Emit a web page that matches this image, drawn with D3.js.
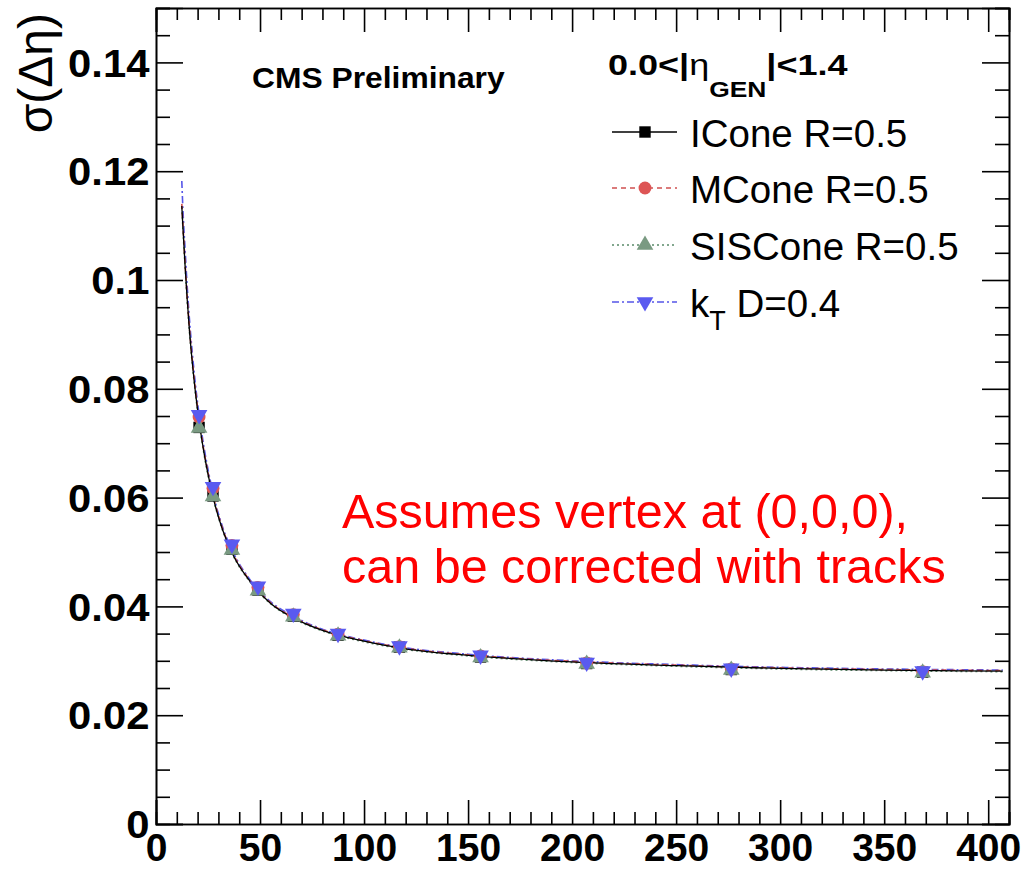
<!DOCTYPE html>
<html lang="en">
<head>
  <meta charset="UTF-8">
  <title>sigma(Delta eta) vs pT</title>
  <script src="https://d3js.org/d3.v7.min.js"></script>
  <style>
    body { margin: 0; background: #fff; font-family: "Liberation Sans", Arial, sans-serif; }
    .tick text { font-weight: bold; fill: #000; }
    .domain { stroke: #000; stroke-width: 1.6; }
    .tick line { stroke: #000; stroke-width: 1.6; }
  </style>
</head>
<body>
  <svg width="1022" height="870"></svg>
  <script>
    // Jet pT bin centres and sigma(delta eta) per algorithm
    const ptBins = [20.7, 27.4, 36.5, 49, 66, 87.5, 117, 156, 207, 276.5, 368.5];
    const iconeVals = [0.0729, 0.0603, 0.0505, 0.0430, 0.0382, 0.0347, 0.0325, 0.0307, 0.0295, 0.0284, 0.0279];
    const mconeVals = [0.0748, 0.0617, 0.0512, 0.0435, 0.0385, 0.0349, 0.0326, 0.0309, 0.0296, 0.0285, 0.0280];
    const sisconeVals = [0.0728, 0.0602, 0.0504, 0.0429, 0.0381, 0.0346, 0.0324, 0.0306, 0.0294, 0.0283, 0.0278];
    const ktVals = [0.0752, 0.0620, 0.0514, 0.0437, 0.0387, 0.0350, 0.0327, 0.0310, 0.0297, 0.0286, 0.0281];

    // fit curves
    const fitX = [12.4, 13, 14, 15, 16, 17.5, 19, 21, 23, 25, 28, 32, 37, 45, 55, 66, 80, 100, 120, 150, 200, 250, 300, 350, 407];
    const iconeFit = [0.1136, 0.1093, 0.1025, 0.0964, 0.0911, 0.0846, 0.0792, 0.0733, 0.0684, 0.0643, 0.0592, 0.0541, 0.0495, 0.0447, 0.0406, 0.0379, 0.0356, 0.0336, 0.0322, 0.0310, 0.0298, 0.0291, 0.0286, 0.0283, 0.0281];
    const mconeFit = [0.1140, 0.1098, 0.1030, 0.0969, 0.0916, 0.0851, 0.0796, 0.0737, 0.0687, 0.0646, 0.0595, 0.0543, 0.0497, 0.0448, 0.0407, 0.0380, 0.0357, 0.0337, 0.0323, 0.0311, 0.0299, 0.0292, 0.0287, 0.0284, 0.0282];
    const sisconeFit = [0.1134, 0.1091, 0.1023, 0.0962, 0.0909, 0.0844, 0.0790, 0.0731, 0.0682, 0.0641, 0.0591, 0.0540, 0.0494, 0.0446, 0.0405, 0.0378, 0.0355, 0.0335, 0.0321, 0.0309, 0.0297, 0.0290, 0.0285, 0.0282, 0.0280];
    const ktFit = [0.1182, 0.1125, 0.1055, 0.0988, 0.0932, 0.0864, 0.0806, 0.0745, 0.0694, 0.0652, 0.0599, 0.0546, 0.0500, 0.0450, 0.0409, 0.0382, 0.0358, 0.0338, 0.0324, 0.0312, 0.0300, 0.0293, 0.0288, 0.0285, 0.0283];

    const seriesNames = ["ICone R=0.5", "MCone R=0.5", "SISCone R=0.5", "kT D=0.4"];
    const xTicks = [0, 50, 100, 150, 200, 250, 300, 350, 400];
    const yTicks = [0, 0.02, 0.04, 0.06, 0.08, 0.1, 0.12, 0.14];

    const margin = { top: 8, left: 156 };
    const width = 853;
    const height = 816;

    const svg = d3.select("svg");
    const g = svg.append("g")
      .attr("transform", `translate(${margin.left}, ${margin.top})`);

    const x = d3.scaleLinear().domain([0, 410]).range([0, width]);
    const y = d3.scaleLinear().domain([0, 0.15]).range([height, 0]);

    const xMinor = d3.range(0, 411, 10).filter(v => v % 50 !== 0);
    const yMinor = d3.range(0, 151, 5).map(v => v / 1000).filter((v, i) => i % 4 !== 0);

    // minor ticks on all four sides
    g.append("g").attr("transform", `translate(0, ${height})`)
      .call(d3.axisBottom(x).tickValues(xMinor).tickSize(-12).tickFormat(""));
    g.append("g")
      .call(d3.axisTop(x).tickValues(xMinor).tickSize(-12).tickFormat(""));
    g.append("g")
      .call(d3.axisLeft(y).tickValues(yMinor).tickSize(-14).tickFormat(""));
    g.append("g").attr("transform", `translate(${width}, 0)`)
      .call(d3.axisRight(y).tickValues(yMinor).tickSize(-14).tickFormat(""));

    // major ticks + labels
    g.append("g").attr("transform", `translate(0, ${height})`)
      .call(d3.axisBottom(x).tickValues(xTicks).tickSize(-24).tickPadding(9).tickFormat(d3.format("d")))
      .selectAll("text").style("font-size", "39px").attr("dy", "0.72em");
    g.append("g")
      .call(d3.axisTop(x).tickValues(xTicks).tickSize(-24).tickFormat(""));
    g.append("g")
      .call(d3.axisLeft(y).tickValues(yTicks).tickSize(-27).tickPadding(6).tickFormat(d => d === 0 ? "0" : d3.format(".2~f")(d)))
      .selectAll("text").style("font-size", "38px").attr("dy", "0.36em")
      .attr("transform", "scale(1.1,1)");
    g.append("g").attr("transform", `translate(${width}, 0)`)
      .call(d3.axisRight(y).tickValues(yTicks).tickSize(-27).tickFormat(""));

    g.selectAll(".domain").attr("fill", "none");

    // y-axis title
    svg.append("text")
      .attr("transform", "translate(52, 13) rotate(-90)")
      .attr("text-anchor", "end")
      .style("font-size", "48px")
      .text("σ(Δη)");

    const styles = [
      { color: "#000000", mcolor: "#000000", dash: null, shape: d3.symbolSquare, rot: 0, size: 130 },
      { color: "#d05050", mcolor: "#dd5555", dash: "5,4", shape: d3.symbolCircle, rot: 0, size: 130 },
      { color: "#5a8a6a", mcolor: "#7a9a82", dash: "2,3", shape: d3.symbolTriangle, rot: 0, size: 120 },
      { color: "#5555e8", mcolor: "#5a5af0", dash: "7,3,2,3", shape: d3.symbolTriangle, rot: 180, size: 120 }
    ];
    const fits = [iconeFit, mconeFit, sisconeFit, ktFit];
    const vals = [iconeVals, mconeVals, sisconeVals, ktVals];

    const line = d3.line()
      .x(d => x(d[0]))
      .y(d => y(d[1]))
      .curve(d3.curveMonotoneX);

    // fit curves (blue drawn first so black sits on top like the reference)
    [3, 2, 1, 0].forEach(i => {
      g.append("path")
        .datum(fitX.map((v, j) => [v, fits[i][j]]))
        .attr("fill", "none")
        .attr("stroke", styles[i].color)
        .attr("stroke-width", i === 0 ? 1.3 : 1.6)
        .attr("stroke-dasharray", styles[i].dash)
        .attr("d", line);
    });

    // markers
    [0, 1, 2, 3].forEach(i => {
      const s = styles[i];
      g.selectAll(".m" + i)
        .data(ptBins.map((v, j) => [v, vals[i][j]]))
        .enter().append("path")
        .attr("class", "m" + i)
        .attr("transform", d => `translate(${x(d[0])}, ${y(d[1])}) rotate(${s.rot})`)
        .attr("d", d3.symbol().type(s.shape).size(s.size))
        .attr("fill", s.mcolor);
    });

    // CMS label
    svg.append("text")
      .attr("transform", "translate(252, 88) scale(1.06,1)")
      .style("font-size", "30px").style("font-weight", "bold")
      .text("CMS Preliminary");

    // legend header
    const hdr = svg.append("text")
      .attr("transform", "translate(608, 75) scale(1.2,1)")
      .style("font-size", "30px").style("font-weight", "bold");
    hdr.append("tspan").text("0.0<|");
    hdr.append("tspan").style("font-weight", "normal").text("η");
    hdr.append("tspan").attr("dy", 22).style("font-size", "22px").text("GEN");
    hdr.append("tspan").attr("dy", -22).text("|<1.4");

    const legY = [132, 188, 245, 302];
    seriesNames.forEach((name, i) => {
      const s = styles[i];
      svg.append("line")
        .attr("x1", 612).attr("x2", 677)
        .attr("y1", legY[i]).attr("y2", legY[i])
        .attr("stroke", s.color).attr("stroke-width", 1.6)
        .attr("stroke-dasharray", s.dash);
      svg.append("path")
        .attr("transform", `translate(645, ${legY[i]}) rotate(${s.rot})`)
        .attr("d", d3.symbol().type(s.shape).size(s.size))
        .attr("fill", s.mcolor);
      const t = svg.append("text")
        .attr("x", 690).attr("y", legY[i] + 15)
        .style("font-size", "38.5px");
      if (name.startsWith("kT")) {
        t.append("tspan").text("k");
        t.append("tspan").attr("dy", 13).style("font-size", "27px").text("T");
        t.append("tspan").attr("dy", -13).text(" D=0.4");
      } else {
        t.text(name);
      }
    });

    // red annotation
    const note = svg.append("text")
      .attr("fill", "#ff0000")
      .style("font-size", "48.5px");
    note.append("tspan").attr("x", 342).attr("y", 528).text("Assumes vertex at (0,0,0),");
    note.append("tspan").attr("x", 342).attr("y", 583).text("can be corrected with tracks");
  </script>
</body>
</html>
